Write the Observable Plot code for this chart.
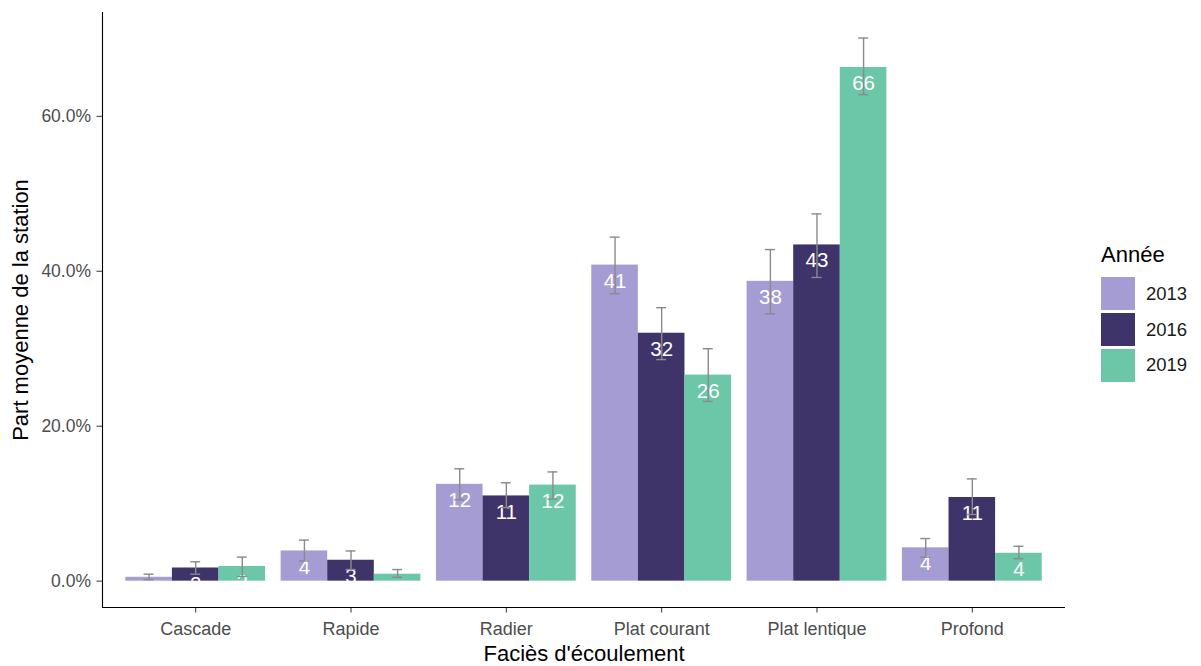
<!DOCTYPE html>
<html>
<head>
<meta charset="utf-8">
<script src="https://cdn.jsdelivr.net/npm/d3@7"></script>
<script src="https://cdn.jsdelivr.net/npm/@observablehq/plot@0.6"></script>
<style>
  body { margin: 0; background: #fff; font-family: "Liberation Sans", Arial, sans-serif; }
  #wrap { position: relative; width: 1201px; height: 666px; }
  #legend { position: absolute; left: 1101px; top: 244px; font-family: "Liberation Sans", Arial, sans-serif; }
  #legend .title { font-size: 22px; color: #000; height: 32px; line-height: 22px; }
  #legend .row { display: flex; align-items: center; height: 35.8px; }
  #legend .sw { width: 34px; height: 33px; margin-right: 11px; }
  #legend .lab { font-size: 18.5px; color: #1a1a1a; }
</style>
</head>
<body>
<div id="wrap">
  <div id="chart"></div>
  <div id="legend"></div>
</div>
<script>
const categories = ["Cascade", "Rapide", "Radier", "Plat courant", "Plat lentique", "Profond"];
const years = ["2013", "2016", "2019"];
const colors = ["#a69cd4", "#3f3469", "#6cc7a9"];

// mean share (%) per category, per year
const values2013 = [0.5, 3.9, 12.5, 40.8, 38.7, 4.3];
const values2016 = [1.7, 2.7, 11.0, 32.0, 43.4, 10.8];
const values2019 = [1.9, 0.9, 12.4, 26.6, 66.3, 3.6];

// error bar bounds (%)
const lower2013 = [0.2, 2.6, 10.5, 37.1, 34.5, 3.1];
const upper2013 = [0.9, 5.3, 14.5, 44.4, 42.8, 5.5];
const lower2016 = [0.9, 1.5, 9.5, 28.6, 39.2, 8.6];
const upper2016 = [2.5, 3.9, 12.7, 35.3, 47.4, 13.2];
const lower2019 = [0.6, 0.5, 10.6, 23.2, 62.8, 2.9];
const upper2019 = [3.1, 1.5, 14.1, 30.0, 70.1, 4.5];

// labels shown on the bars
const labels2013 = ["1", "4", "12", "41", "38", "4"];
const labels2016 = ["2", "3", "11", "32", "43", "11"];
const labels2019 = ["2", "1", "12", "26", "66", "4"];

const yTicks = [0, 20, 40, 60];

const series = [
  {year: years[0], values: values2013, lower: lower2013, upper: upper2013, labels: labels2013},
  {year: years[1], values: values2016, lower: lower2016, upper: upper2016, labels: labels2016},
  {year: years[2], values: values2019, lower: lower2019, upper: upper2019, labels: labels2019}
];

const dodge = 0.3;   // width of one bar in category units
const capHalf = 0.032;
const data = [];
series.forEach((s, j) => {
  categories.forEach((c, i) => {
    data.push({
      category: c, ci: i, year: s.year, yi: j,
      value: s.values[i], lower: s.lower[i], upper: s.upper[i], label: s.labels[i]
    });
  });
});
const xc = d => d.ci + (d.yi - 1) * dodge;

const xDomain = [-0.6, categories.length - 0.4];
const yDomain = [-3.4, 73.4];

const chart = Plot.plot({
  width: 1201,
  height: 666,
  marginLeft: 102,
  marginRight: 136,
  marginTop: 12,
  marginBottom: 59,
  style: {fontFamily: "Liberation Sans, Arial, sans-serif", background: "#fff", fontSize: "18px"},
  x: {domain: xDomain, label: null},
  y: {domain: yDomain, label: null},
  color: {domain: years, range: colors},
  marks: [
    Plot.rectY(data, {
      x1: d => xc(d) - dodge / 2, x2: d => xc(d) + dodge / 2,
      y1: 0, y2: "value", fill: "year"
    }),
    Plot.text(data, {
      x: xc, y: "value", text: "label", dy: 16,
      fill: "white", fontSize: 20.5
    }),
    Plot.ruleX(data, {x: xc, y1: "lower", y2: "upper", stroke: "#8a8a8a", strokeWidth: 1.4}),
    Plot.ruleY(data, {y: "upper", x1: d => xc(d) - capHalf, x2: d => xc(d) + capHalf, stroke: "#8a8a8a", strokeWidth: 1.4}),
    Plot.ruleY(data, {y: "lower", x1: d => xc(d) - capHalf, x2: d => xc(d) + capHalf, stroke: "#8a8a8a", strokeWidth: 1.4}),
    Plot.axisX(categories.map((c, i) => i), {
      tickFormat: i => categories[i], tickSize: 5.5, tickPadding: 9,
      fontSize: 18, color: "#4d4d4d", stroke: "#333",
      label: "Faciès d'écoulement", labelAnchor: "center", labelOffset: 53
    }),
    Plot.axisY(yTicks, {
      tickFormat: d => d.toFixed(1) + "%", tickSize: 5.5, tickPadding: 6,
      fontSize: 17.5, color: "#4d4d4d", stroke: "#333",
      label: "Part moyenne de la station", labelAnchor: "center", labelOffset: 90
    }),
    Plot.ruleX([xDomain[0]], {stroke: "black", strokeWidth: 1.1}),
    Plot.ruleY([yDomain[0]], {stroke: "black", strokeWidth: 1.1})
  ]
});
// axis titles: black, larger, no arrows
chart.querySelectorAll("text").forEach(t => {
  const s = t.textContent;
  if (s.includes("Faciès") || s.includes("Part moyenne")) {
    t.textContent = s.replace(/\s*[→↑←↓]\s*/g, "").trim();
    t.setAttribute("fill", "#000");
    t.style.fontSize = "22px";
  }
});
document.getElementById("chart").appendChild(chart);

const legend = document.getElementById("legend");
const title = document.createElement("div");
title.className = "title";
title.textContent = "Année";
legend.appendChild(title);
years.forEach((y, i) => {
  const row = document.createElement("div");
  row.className = "row";
  const sw = document.createElement("div");
  sw.className = "sw";
  sw.style.background = colors[i];
  const lab = document.createElement("span");
  lab.className = "lab";
  lab.textContent = y;
  row.appendChild(sw);
  row.appendChild(lab);
  legend.appendChild(row);
});
</script>
</body>
</html>
